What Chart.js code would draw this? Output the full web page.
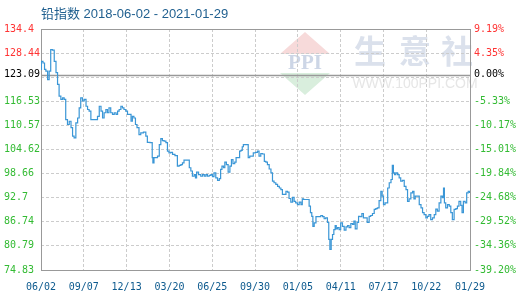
<!DOCTYPE html>
<html>
<head>
<meta charset="utf-8">
<script src="https://cdn.jsdelivr.net/npm/chart.js@4.4.0/dist/chart.umd.min.js"></script>
<style>
  html, body { margin: 0; padding: 0; background: #fff; }
</style>
</head>
<body>
<canvas id="leadChart" width="520" height="300"></canvas>
<script>
// 铅指数 2018-06-02 - 2021-01-29
const titleText = '铅指数 2018-06-02 - 2021-01-29';
const startDate = '2018-06-02';

// giorni dall'inizio e valore dell'indice
const dayOffsets = [
  0, 2, 7, 9, 13, 17, 20, 24, 28, 32,
  36, 39, 43, 47, 51, 54, 58, 62, 66, 70,
  73, 77, 81, 85, 88, 92, 96, 100, 104, 107,
  111, 115, 126, 130, 134, 138, 141, 145, 149, 152,
  156, 160, 164, 168, 172, 175, 179, 183, 186, 190,
  194, 198, 202, 206, 208, 213, 215, 220, 224, 228,
  236, 239, 243, 251, 253, 254, 258, 262, 266, 270,
  273, 277, 281, 285, 288, 292, 296, 300, 307, 311,
  315, 319, 322, 326, 334, 338, 341, 345, 349, 351,
  354, 360, 364, 368, 372, 375, 379, 383, 387, 390,
  394, 398, 402, 406, 408, 412, 415, 418, 422, 426,
  430, 433, 437, 441, 443, 449, 451, 455, 457, 460,
  468, 471, 475, 479, 483, 489, 492, 496, 500, 504,
  508, 511, 515, 519, 523, 526, 530, 534, 538, 542,
  545, 549, 553, 557, 560, 564, 568, 572, 575, 579,
  583, 587, 591, 593, 597, 606, 609, 612, 615, 617,
  621, 625, 632, 636, 640, 643, 647, 651, 653, 656,
  659, 662, 665, 668, 670, 674, 677, 681, 685, 689,
  693, 696, 700, 704, 708, 710, 714, 718, 721, 725,
  729, 732, 736, 742, 745, 749, 753, 757, 760, 764,
  768, 772, 774, 778, 781, 784, 787, 791, 795, 797,
  800, 802, 806, 810, 813, 817, 821, 825, 829, 832,
  836, 840, 844, 846, 850, 855, 859, 863, 866, 870,
  874, 877, 881, 885, 889, 893, 896, 900, 904, 908,
  911, 913, 915, 919, 923, 927, 930, 934, 938, 942,
  945, 949, 953, 955, 959, 963, 966, 970, 972
];
const indexValues = [
  124.4, 126.4, 126.0, 124.4, 124.0, 121.9, 124.0, 129.3, 129.2, 126.4,
  123.6, 120.7, 117.8, 117.0, 117.4, 117.0, 112.0, 110.8, 111.6, 110.0,
  107.9, 107.5, 111.2, 112.4, 114.9, 117.4, 116.6, 117.0, 115.3, 114.5,
  114.1, 112.0, 112.0, 112.8, 115.3, 114.1, 112.4, 113.7, 114.5, 113.7,
  114.9, 113.7, 113.3, 113.7, 113.3, 114.1, 114.5, 115.3, 114.9, 114.5,
  114.1, 113.3, 113.3, 111.6, 112.8, 112.4, 110.8, 110.0, 108.3, 108.7,
  108.9, 107.9, 106.4, 106.3, 102.6, 101.3, 102.6, 102.6, 103.0, 105.8,
  107.3, 106.8, 106.7, 106.3, 104.2, 103.8, 103.9, 103.4, 103.1, 100.5,
  100.7, 100.9, 101.3, 102.0, 102.0, 100.1, 99.3, 98.0, 98.4, 97.6,
  99.0, 98.4, 98.0, 98.4, 98.0, 98.4, 98.0, 98.2, 98.4, 97.9,
  98.85, 97.6, 97.0, 97.4, 99.7, 100.5, 100.1, 101.5, 100.9, 99.0,
  100.5, 102.1, 101.1, 101.5, 102.6, 102.6, 104.2, 104.4, 105.3, 105.8,
  105.8, 102.6, 103.0, 103.0, 103.8, 103.9, 104.2, 103.0, 103.6, 103.5,
  101.7, 101.5, 100.9, 99.8, 98.85, 96.8, 96.4, 96.0, 95.5, 95.1,
  94.7, 93.5, 93.5, 94.3, 94.1, 92.5, 91.6, 92.8, 91.8, 91.4,
  91.0, 91.6, 91.0, 92.4, 92.25, 92.25, 90.6, 89.0, 88.1, 85.6,
  86.5, 88.0, 88.0, 88.3, 88.0, 87.5, 87.7, 86.6, 82.4, 79.9,
  82.4, 83.6, 84.8, 85.8, 85.0, 85.3, 84.8, 86.5, 85.6, 84.7,
  85.5, 85.8, 85.3, 86.3, 86.1, 86.9, 85.0, 86.6, 88.1, 88.0,
  88.8, 87.7, 87.7, 86.6, 88.1, 88.3, 88.8, 89.8, 90.0, 90.2,
  92.0, 94.3, 93.1, 91.0, 91.4, 91.4, 95.1, 96.4, 97.2, 100.7,
  98.85, 98.4, 98.85, 98.4, 97.6, 96.8, 97.0, 95.5, 94.7, 91.8,
  92.4, 93.9, 94.3, 92.4, 93.1, 93.1, 91.0, 90.2, 89.0, 88.5,
  87.7, 88.1, 88.5, 87.3, 87.7, 88.5, 89.9, 89.4, 91.4, 93.1,
  92.7, 95.1, 91.4, 90.2, 91.0, 90.6, 89.0, 87.3, 89.8, 90.0,
  90.6, 91.8, 90.8, 89.0, 91.8, 91.4, 93.9, 94.3, 94.0
];

// etichette asse X
const xTickDates = ['2018-06-02', '2018-09-07', '2018-12-13', '2019-03-20', '2019-06-25', '2019-09-30',
                    '2020-01-05', '2020-04-11', '2020-07-17', '2020-10-22', '2021-01-29'];
const xTickLabels = ['06/02', '09/07', '12/13', '03/20', '06/25', '09/30', '01/05', '04/11', '07/17', '10/22', '01/29'];

// griglia asse Y (dal basso verso l'alto)
const yGridValues = [74.83, 80.79, 86.74, 92.7, 98.66, 104.62, 110.57, 116.53, 122.48, 128.44, 134.4];
const leftLabels  = ['74.83', '80.79', '86.74', '92.7', '98.66', '104.62', '110.57', '116.53', '', '128.44', '134.4'];
const rightLabels = ['-39.20%', '-34.36%', '-29.52%', '-24.68%', '-19.84%', '-15.01%', '-10.17%', '-5.33%', '', '4.35%', '9.19%'];
const baseValue = 123.09;
const baseLeftLabel = '123.09';
const baseRightLabel = '0.00%';

function daysFromStart(d) {
    return Math.round((Date.parse(d) - Date.parse(startDate)) / 86400000);
}
const xTickDays = xTickDates.map(daysFromStart);

const yMin = yGridValues[0];
const yMax = yGridValues[yGridValues.length - 1];
const yTicks = yGridValues.concat([baseValue]).sort((a, b) => a - b);

function labelFor(value, labels, baseLabel) {
    if (value === baseValue) return baseLabel;
    const i = yGridValues.indexOf(value);
    return i >= 0 ? labels[i] : '';
}
function tickColor(ctx) {
    const v = ctx.tick.value;
    if (v === baseValue) return '#000000';
    return v > baseValue ? '#ff3333' : '#33bb33';
}

const monoFont = { family: '"DejaVu Sans Mono", monospace', size: 10 };

// titolo, filigrana, cornice e linea base
const decorPlugin = {
    id: 'decor',
    beforeDraw(chart) {
        const c = chart.ctx;
        c.save();
        // filigrana logo
        c.fillStyle = '#f7dada';
        c.beginPath(); c.moveTo(305, 32); c.lineTo(330, 54); c.lineTo(280, 54); c.closePath(); c.fill();
        c.fillStyle = '#d9eedd';
        c.beginPath(); c.moveTo(280, 73); c.lineTo(330, 73); c.lineTo(305, 95); c.closePath(); c.fill();
        c.fillStyle = '#cdd6e6';
        c.font = 'bold 21px "Liberation Serif", serif';
        c.textAlign = 'center'; c.textBaseline = 'middle';
        c.fillText('PPI', 305, 64);
        c.fillStyle = '#dbe1ec';
        c.font = 'bold 32px "Noto Sans CJK SC"';
        c.fillText('生', 370, 51);
        c.fillText('意', 415, 51);
        c.fillText('社', 457, 51);
        c.fillStyle = '#e6e6e6';
        c.font = '14px "Liberation Sans", sans-serif';
        c.fillText('WWW.100PPI.COM', 415, 84);
        // titolo
        c.fillStyle = '#1f5f8f';
        c.font = '13px "Liberation Sans", "Noto Sans CJK SC", sans-serif';
        c.textAlign = 'left';
        c.fillText(titleText, 41, 14);
        c.restore();
    },
    beforeDatasetsDraw(chart) {
        const c = chart.ctx;
        const a = chart.chartArea;
        const yb = Math.round(chart.scales.y.getPixelForValue(baseValue)) + 0.5;
        c.save();
        c.strokeStyle = '#999999';
        c.lineWidth = 1.5;
        c.beginPath(); c.moveTo(a.left, yb); c.lineTo(a.right, yb); c.stroke();
        c.lineWidth = 1;
        c.strokeRect(Math.round(a.left) + 0.5, Math.round(a.top) + 0.5,
                     Math.round(a.right - a.left), Math.round(a.bottom - a.top));
        c.restore();
    }
};

new Chart(document.getElementById('leadChart'), {
    type: 'line',
    data: {
        datasets: [{
            data: dayOffsets.map((d, i) => ({ x: d, y: indexValues[i] })),
            borderColor: '#3a96d6',
            borderWidth: 1.2,
            pointRadius: 0,
            stepped: 'middle',
            fill: false
        }]
    },
    options: {
        responsive: false,
        animation: false,
        devicePixelRatio: 1,
        layout: { padding: { left: 4, right: 0, top: 29, bottom: 0 } },
        plugins: { legend: { display: false }, tooltip: { enabled: false }, title: { display: false } },
        scales: {
            x: {
                type: 'linear',
                min: 0,
                max: xTickDays[xTickDays.length - 1],
                afterBuildTicks: (s) => { s.ticks = xTickDays.map(v => ({ value: v })); },
                afterFit: (s) => { s.height = 30; },
                grid: { color: '#cccccc', lineWidth: 1, drawTicks: false },
                border: { display: false, dash: [3, 2] },
                ticks: {
                    autoSkip: false, maxRotation: 0, padding: 11,
                    color: '#0d5a8e', font: monoFont,
                    callback: (v, i) => xTickLabels[xTickDays.indexOf(v)]
                }
            },
            y: {
                position: 'left',
                min: yMin, max: yMax,
                afterBuildTicks: (s) => { s.ticks = yTicks.map(v => ({ value: v })); },
                afterFit: (s) => { s.width = 37; },
                grid: {
                    color: (ctx) => ctx.tick && ctx.tick.value === baseValue ? 'rgba(0,0,0,0)' : '#cccccc',
                    lineWidth: 1, drawTicks: false
                },
                border: { display: false, dash: [3, 2] },
                ticks: {
                    autoSkip: false, crossAlign: 'far', padding: 0,
                    color: tickColor, font: monoFont,
                    callback: (v) => labelFor(v, leftLabels, baseLeftLabel)
                }
            },
            y2: {
                position: 'right',
                min: yMin, max: yMax,
                afterBuildTicks: (s) => { s.ticks = yTicks.map(v => ({ value: v })); },
                afterFit: (s) => { s.width = 50; },
                grid: { drawOnChartArea: false, drawTicks: false },
                border: { display: false },
                ticks: {
                    autoSkip: false, padding: 4,
                    color: tickColor, font: monoFont,
                    callback: (v) => labelFor(v, rightLabels, baseRightLabel)
                }
            }
        }
    },
    plugins: [decorPlugin]
});
</script>
</body>
</html>
